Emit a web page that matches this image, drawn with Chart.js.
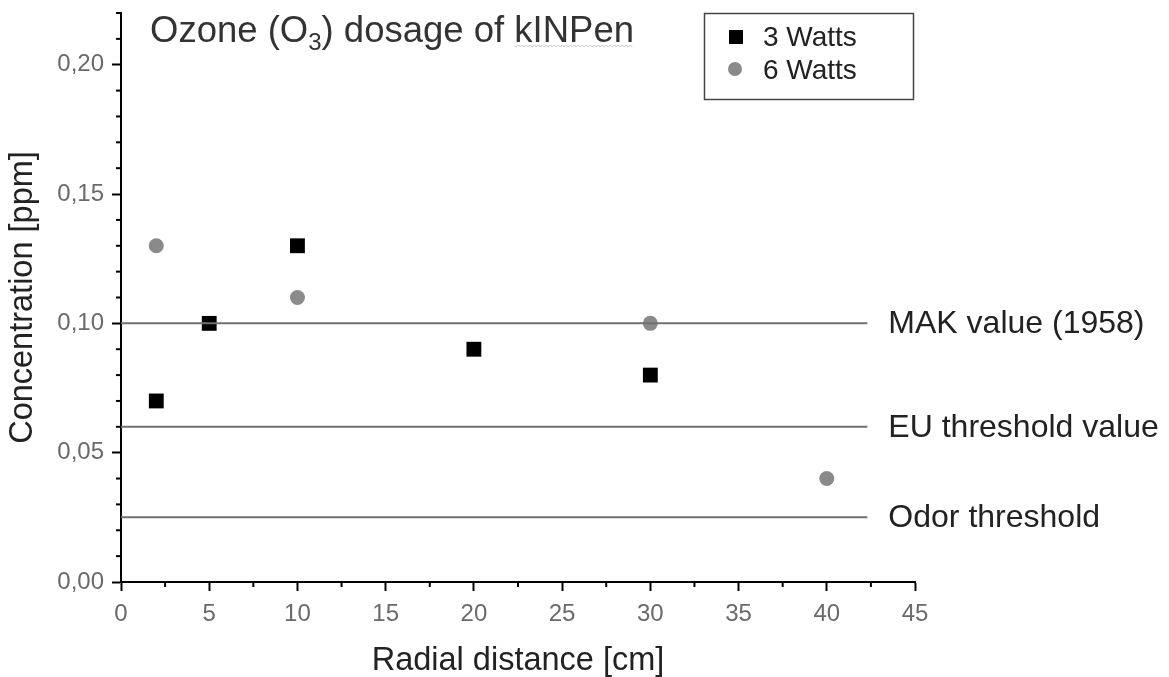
<!DOCTYPE html>
<html>
<head>
<meta charset="utf-8">
<script src="https://cdn.jsdelivr.net/npm/chart.js@4.4.1/dist/chart.umd.min.js"></script>
<style>
  html, body { margin: 0; padding: 0; background: #fff; }
  #wrap { width: 1169px; height: 677px; }
</style>
</head>
<body>
<div id="wrap"><canvas id="canvasId" width="1169" height="677"></canvas></div>
<script>
// data
var watts3X = [2, 5, 10, 20, 30];
var watts3Y = [0.07, 0.10, 0.13, 0.09, 0.08];
var watts6X = [2, 10, 30, 40];
var watts6Y = [0.13, 0.11, 0.10, 0.04];
var limitNames = ["MAK value (1958)", "EU threshold value", "Odor threshold"];
var limitValues = [0.10, 0.06, 0.025];
var limitEnd = 42.3; // lines stop a bit before the axis end
var seriesNames = ["3 Watts", "6 Watts"];

var FONT = "'Liberation Sans', Arial, sans-serif";

function pts(xs, ys) {
	return xs.map(function (x, i) { return { x: x, y: ys[i] }; });
}

var datasets = [];
limitValues.forEach(function (v, i) {
	datasets.push({
		type: "line",
		label: limitNames[i],
		data: [{ x: 0, y: v }, { x: limitEnd, y: v }],
		borderColor: "#707070",
		borderWidth: 2,
		pointRadius: 0
	});
});
datasets.push({
	label: seriesNames[0],
	data: pts(watts3X, watts3Y),
	pointStyle: "rect",
	pointRadius: 10.5,
	backgroundColor: "#000",
	borderColor: "#000",
	borderWidth: 0
});
datasets.push({
	label: seriesNames[1],
	data: pts(watts6X, watts6Y),
	pointStyle: "circle",
	pointRadius: 7.5,
	backgroundColor: "#8a8a8a",
	borderColor: "#8a8a8a",
	borderWidth: 0
});

// minor ticks, labels of the limit lines, title and legend box
var extras = {
	id: "extras",
	afterDraw: function (chart) {
		var ctx = chart.ctx;
		var xs = chart.scales.x, ys = chart.scales.y;
		ctx.save();
		ctx.strokeStyle = "#000";
		ctx.lineWidth = 2;
		// minor ticks on x
		for (var v = 2.5; v < 45; v += 5) {
			var px = xs.getPixelForValue(v);
			ctx.beginPath();
			ctx.moveTo(px, xs.top);
			ctx.lineTo(px, xs.top + 5);
			ctx.stroke();
		}
		// minor ticks on y
		for (var k = 1; k <= 22; k++) {
			if (k % 5 === 0) continue;
			var py = ys.getPixelForValue(k / 100);
			ctx.beginPath();
			ctx.moveTo(ys.right, py);
			ctx.lineTo(ys.right - 5, py);
			ctx.stroke();
		}

		// limit labels
		ctx.fillStyle = "#222";
		ctx.font = "32px " + FONT;
		ctx.textBaseline = "middle";
		ctx.textAlign = "left";
		limitValues.forEach(function (v, i) {
			ctx.fillText(limitNames[i], xs.getPixelForValue(limitEnd) + 21, ys.getPixelForValue(v) + 1);
		});

		// title with subscript
		ctx.fillStyle = "#333";
		ctx.textBaseline = "alphabetic";
		var tx = 150, ty = 42;
		ctx.font = "36.5px " + FONT;
		ctx.fillText("Ozone (O", tx, ty);
		tx += ctx.measureText("Ozone (O").width;
		ctx.font = "24px " + FONT;
		ctx.fillText("3", tx, ty + 8);
		tx += ctx.measureText("3").width;
		ctx.font = "36.5px " + FONT;
		ctx.fillText(") dosage of kINPen", tx, ty);
		// faint spell-check squiggle under kINPen
		var wEnd = tx + ctx.measureText(") dosage of kINPen").width;
		var wStart = wEnd - ctx.measureText("kINPen").width;
		ctx.strokeStyle = "#c4c4c4";
		ctx.lineWidth = 1;
		ctx.beginPath();
		for (var sx = wStart, up = true; sx <= wEnd; sx += 2, up = !up) {
			if (sx === wStart) ctx.moveTo(sx, ty + 4); else ctx.lineTo(sx, up ? ty + 3 : ty + 5);
		}
		ctx.stroke();

		// legend box
		ctx.strokeStyle = "#444";
		ctx.lineWidth = 1.5;
		ctx.strokeRect(704.5, 13.5, 209, 86);
		ctx.fillStyle = "#000";
		ctx.fillRect(729, 30, 14, 14);
		ctx.fillStyle = "#8a8a8a";
		ctx.beginPath();
		ctx.arc(735, 69, 7, 0, Math.PI * 2);
		ctx.fill();
		ctx.fillStyle = "#222";
		ctx.font = "28px " + FONT;
		ctx.textBaseline = "middle";
		ctx.fillText(seriesNames[0], 763, 38);
		ctx.fillText(seriesNames[1], 763, 71);
		ctx.restore();
	}
};

var tickFont = { family: FONT, size: 24 };
var titleFont = { family: FONT, size: 32.5 };

let chartObj = new Chart(document.getElementById("canvasId").getContext("2d"), {
	type: "scatter",
	data: { datasets: datasets },
	options: {
		responsive: false,
		animation: false,
		layout: { padding: { top: 13, right: 254, left: 0, bottom: 0 } },
		plugins: {
			legend: { display: false },
			tooltip: { enabled: false }
		},
		scales: {
			x: {
				type: "linear",
				min: 0,
				max: 45,
				ticks: { stepSize: 5, color: "#6a6a6a", font: tickFont, padding: 9 },
				grid: { drawOnChartArea: false, tickLength: 9, tickWidth: 2, tickColor: "#000" },
				border: { color: "#000", width: 2 },
				title: { display: true, text: "Radial distance [cm]", color: "#222", font: titleFont, padding: { top: 8, bottom: -4 } },
				afterFit: function (s) { s.height = 95; s.paddingLeft = 0; s.paddingRight = 0; }
			},
			y: {
				min: 0,
				max: 0.22,
				ticks: {
					stepSize: 0.05,
					color: "#6a6a6a",
					font: tickFont,
					padding: 8,
					callback: function (v) {
						if (Math.round(v * 100) % 5 !== 0) return "";
						return v.toFixed(2).replace(".", ",");
					}
				},
				grid: {
					drawOnChartArea: false, tickLength: 9, tickWidth: 2,
					tickColor: function (c) { return Math.round(c.tick.value * 100) % 5 === 0 ? "#000" : "rgba(0,0,0,0)"; }
				},
				border: { color: "#000", width: 2 },
				title: { display: true, text: "Concentration [ppm]", color: "#222", font: titleFont, padding: { bottom: 2 } },
				afterFit: function (s) { s.width = 121; s.paddingTop = 0; s.paddingBottom = 0; }
			}
		}
	},
	plugins: [extras]
});
</script>
</body>
</html>
